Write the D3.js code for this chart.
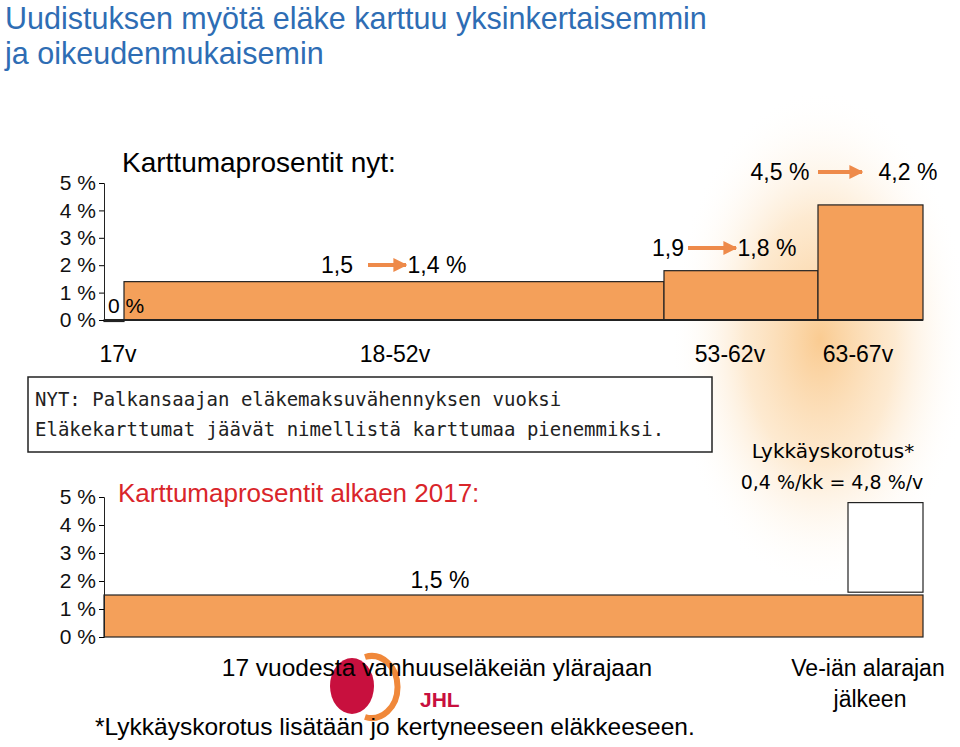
<html>
<head>
<meta charset="utf-8">
<script src="https://d3js.org/d3.v7.min.js"></script>
<style>
  body { margin: 0; background: #fff; }
  text { font-family: "Liberation Sans", Arial, sans-serif; }
</style>
</head>
<body>
<div id="chart"></div>
<script>
// data
var nowAges = [17, 18, 53, 63, 68];            // segment boundaries (age)
var nowLabels = ["17v", "18-52v", "53-62v", "63-67v"];
var nowValues = [0, 1.4, 1.8, 4.2];
var newAges = [17, 68];
var newValues = [1.5];
var deferLow = 1.6, deferHigh = 4.8;
var yTicks = [0, 1, 2, 3, 4, 5];

var W = 960, H = 747;
var svg = d3.select("#chart").append("svg").attr("width", W).attr("height", H);

// orange glow
var defs = svg.append("defs");
var rg = defs.append("radialGradient").attr("id", "glow");
rg.append("stop").attr("offset", "0%").attr("stop-color", "#f9c27e").attr("stop-opacity", 0.85);
rg.append("stop").attr("offset", "50%").attr("stop-color", "#fcdcb2").attr("stop-opacity", 0.6);
rg.append("stop").attr("offset", "100%").attr("stop-color", "#fff").attr("stop-opacity", 0);
svg.append("ellipse").attr("cx", 820).attr("cy", 340).attr("rx", 150).attr("ry", 250).attr("fill", "url(#glow)");

// title
svg.append("text").attr("x", 5).attr("y", 29).attr("fill", "#2e6db4").attr("font-size", 30.5).text("Uudistuksen myötä eläke karttuu yksinkertaisemmin");
svg.append("text").attr("x", 5).attr("y", 64).attr("fill", "#2e6db4").attr("font-size", 30.5).text("ja oikeudenmukaisemin");

var x = d3.scaleLinear().domain([17, 18, 53, 63, 68]).range([104, 124, 664, 818, 923]);

function yAxis(y) {
  var g = svg.append("g").attr("transform", "translate(104,0)")
    .call(d3.axisLeft(y).tickValues(yTicks).tickSize(5).tickFormat(function(d) { return d + " %"; }));
  g.select(".domain").attr("stroke", "#222");
  g.selectAll("text").attr("font-size", 21).attr("fill", "#111").style("font-family", "Liberation Sans, Arial");
  return g;
}

// top chart
var y1 = d3.scaleLinear().domain([0, 5]).range([320, 183]);
svg.selectAll("rect.now").data(nowValues).enter().append("rect")
  .attr("x", function(d, i) { return x(nowAges[i]); })
  .attr("width", function(d, i) { return x(nowAges[i + 1]) - x(nowAges[i]); })
  .attr("y", function(d) { return y1(d); })
  .attr("height", function(d) { return Math.max(1.5, y1(0) - y1(d)); })
  .attr("fill", "#f4a05a").attr("stroke", "#222").attr("stroke-width", 1.2);
svg.append("line").attr("x1", 104).attr("x2", 923).attr("y1", y1(0)).attr("y2", y1(0)).attr("stroke", "#222").attr("stroke-width", 2);
yAxis(y1);
svg.append("text").attr("x", 122).attr("y", 172).attr("font-size", 28).text("Karttumaprosentit nyt:");
svg.append("text").attr("x", 108).attr("y", 313).attr("font-size", 21).text("0 %");
var labX = [118, 395, 730, 858];
svg.selectAll("text.xl").data(nowLabels).enter().append("text")
  .attr("x", function(d, i) { return labX[i]; }).attr("y", 362).attr("text-anchor", "middle")
  .attr("font-size", 23).text(function(d) { return d; });

defs.append("marker").attr("id", "ah").attr("viewBox", "0 0 10 10").attr("refX", 9).attr("refY", 5)
  .attr("markerWidth", 3.5).attr("markerHeight", 3.5).attr("orient", "auto")
  .append("path").attr("d", "M0,0L10,5L0,10z").attr("fill", "#ee8a4a");
function change(a, b, xa, x1, x2, xb, yy) {
  svg.append("text").attr("x", xa).attr("y", yy).attr("font-size", 23).attr("text-anchor", "middle").text(a);
  svg.append("line").attr("x1", x1).attr("x2", x2).attr("y1", yy - 8).attr("y2", yy - 8)
    .attr("stroke", "#ee8a4a").attr("stroke-width", 4).attr("marker-end", "url(#ah)");
  svg.append("text").attr("x", xb).attr("y", yy).attr("font-size", 23).attr("text-anchor", "middle").text(b);
}
change("1,5", "1,4 %", 337, 368, 406, 437, 273);
change("1,9", "1,8 %", 668, 688, 736, 767, 256);
change("4,5 %", "4,2 %", 780, 818, 862, 908, 180);

// note box
svg.append("rect").attr("x", 28).attr("y", 377).attr("width", 684).attr("height", 75)
  .attr("fill", "#fff").attr("stroke", "#222").attr("stroke-width", 1.5);
svg.append("text").attr("x", 35).attr("y", 406).attr("font-size", 19).attr("fill", "#222")
  .style("font-family", "DejaVu Sans Mono, monospace").text("NYT: Palkansaajan eläkemaksuvähennyksen vuoksi");
svg.append("text").attr("x", 35).attr("y", 436).attr("font-size", 19).attr("fill", "#222")
  .style("font-family", "DejaVu Sans Mono, monospace").text("Eläkekarttumat jäävät nimellistä karttumaa pienemmiksi.");

// bottom chart
var y2 = d3.scaleLinear().domain([0, 5]).range([637, 497]);
svg.selectAll("rect.new").data(newValues).enter().append("rect")
  .attr("x", x(newAges[0])).attr("width", x(newAges[1]) - x(newAges[0]))
  .attr("y", function(d) { return y2(d); }).attr("height", function(d) { return y2(0) - y2(d); })
  .attr("fill", "#f4a05a").attr("stroke", "#222").attr("stroke-width", 1.2);
svg.append("rect").attr("x", 848).attr("width", x(68) - 848)
  .attr("y", y2(deferHigh)).attr("height", y2(deferLow) - y2(deferHigh))
  .attr("fill", "#fff").attr("stroke", "#222").attr("stroke-width", 1.2);
yAxis(y2);
svg.append("text").attr("x", 118).attr("y", 502).attr("font-size", 26).attr("fill", "#d9252a").text("Karttumaprosentit alkaen 2017:");
svg.append("text").attr("x", 440).attr("y", 588).attr("font-size", 23).attr("text-anchor", "middle").text("1,5 %");
svg.append("text").attr("x", 833).attr("y", 458).attr("font-size", 20).attr("text-anchor", "middle")
  .style("font-family", "DejaVu Sans, sans-serif").text("Lykkäyskorotus*");
svg.append("text").attr("x", 832).attr("y", 489).attr("font-size", 19).attr("text-anchor", "middle")
  .style("font-family", "DejaVu Sans, sans-serif").text("0,4 %/kk = 4,8 %/v");

// logo
svg.append("ellipse").attr("cx", 352).attr("cy", 686).attr("rx", 22).attr("ry", 28).attr("fill", "#c8103e");
svg.append("path").attr("d", "M365,657 A26,31 0 1 1 365,717").attr("fill", "none").attr("stroke", "#f0883a").attr("stroke-width", 6);
svg.append("text").attr("x", 420).attr("y", 707).attr("font-size", 21).attr("font-weight", "bold")
  .attr("fill", "#c8103e").text("JHL");

svg.append("text").attr("x", 437).attr("y", 676).attr("font-size", 24.5).attr("text-anchor", "middle").text("17 vuodesta vanhuuseläkeiän ylärajaan");
svg.append("text").attr("x", 868).attr("y", 676).attr("font-size", 23).attr("text-anchor", "middle").text("Ve-iän alarajan");
svg.append("text").attr("x", 870).attr("y", 707).attr("font-size", 23).attr("text-anchor", "middle").text("jälkeen");
svg.append("text").attr("x", 95).attr("y", 735).attr("font-size", 24.5).text("*Lykkäyskorotus lisätään jo kertyneeseen eläkkeeseen.");
</script>
</body>
</html>
